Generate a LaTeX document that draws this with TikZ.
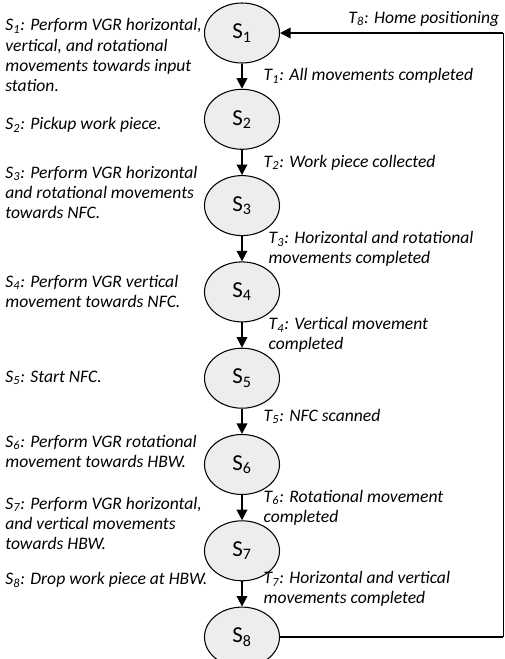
\documentclass[tikz,border=0pt]{standalone}
\usepackage{fontspec}
\setmainfont{Carlito}
\usetikzlibrary{arrows.meta,positioning,calc,shapes.geometric}
\definecolor{stategray}{RGB}{237,237,237}

\begin{document}
\begin{tikzpicture}[
state/.style={draw,ellipse,fill=stategray,line width=0.6pt,minimum width=1.5cm,minimum height=1.2cm,inner sep=0pt,font=\fontsize{13}{14}\selectfont},
desc/.style={anchor=west,align=left,inner sep=0pt,font=\fontsize{10}{11.4}\selectfont\itshape},
lbl/.style={right,xshift=0.3cm,align=left,font=\fontsize{10}{11.4}\selectfont\itshape},
arr/.style={-{Triangle[length=6pt,width=6pt]},line width=1pt}]
\useasboundingbox (0,0) rectangle (10.1,-13.18);
% states
\node[state] (s1) at (4.84,-0.66) {S\textsubscript{1}};
\node[state] (s2) at (4.84,-2.386) {S\textsubscript{2}};
\node[state] (s3) at (4.84,-4.112) {S\textsubscript{3}};
\node[state] (s4) at (4.84,-5.838) {S\textsubscript{4}};
\node[state] (s5) at (4.84,-7.564) {S\textsubscript{5}};
\node[state] (s6) at (4.84,-9.29) {S\textsubscript{6}};
\node[state] (s7) at (4.84,-11.016) {S\textsubscript{7}};
\node[state] (s8) at (4.84,-12.742) {S\textsubscript{8}};
% descriptions
\node[desc] (d1) at (0.1,-1.10) {S\textsubscript{1}: Perform VGR horizontal,\\vertical, and rotational\\movements towards input\\station.};
\node[desc] (d2) at (0.1,-2.50) {S\textsubscript{2}: Pickup work piece.};
\node[desc] (d3) at (0.1,-3.84) {S\textsubscript{3}: Perform VGR horizontal\\and rotational movements\\towards NFC.};
\node[desc] (d4) at (0.1,-5.82) {S\textsubscript{4}: Perform VGR vertical\\movement towards NFC.};
\node[desc] (d5) at (0.1,-7.56) {S\textsubscript{5}: Start NFC.};
\node[desc] (d6) at (0.1,-9.02) {S\textsubscript{6}: Perform VGR rotational\\movement towards HBW.};
\node[desc] (d7) at (0.1,-10.46) {S\textsubscript{7}: Perform VGR horizontal,\\and vertical movements\\towards HBW.};
\node[desc] (d8) at (0.1,-11.60) {S\textsubscript{8}: Drop work piece at HBW.};
% transitions
\draw[arr] (s1)--node[lbl]{T\textsubscript{1}: All movements completed}(s2);
\draw[arr] (s2)--node[lbl]{T\textsubscript{2}: Work piece collected}(s3);
\draw[arr] (s3)--node[lbl,xshift=0.1cm]{T\textsubscript{3}: Horizontal and rotational\\movements completed}(s4);
\draw[arr] (s4)--node[lbl,xshift=0.1cm]{T\textsubscript{4}: Vertical movement\\completed}(s5);
\draw[arr] (s5)--node[lbl,yshift=0.1cm]{T\textsubscript{5}: NFC scanned}(s6);
\draw[arr] (s6)--node[lbl]{T\textsubscript{6}: Rotational movement\\completed}(s7);
\draw[arr] (s7)--node[lbl,yshift=0.1cm]{T\textsubscript{7}: Horizontal and vertical\\movements completed}(s8);
% return path
\coordinate (rb) at (s8.east -| 10.06,0);
\coordinate (rt) at (s1.east -| 10.06,0);
\draw[line width=1pt] (s8.east)--(rb);
\draw[line width=0.5pt] (rb)--(rt);
\draw[arr] (rt)--node[pos=0.355,above,font=\fontsize{10}{11.4}\selectfont\itshape]{T\textsubscript{8}: Home positioning}(s1.east);
\end{tikzpicture}
\end{document}
